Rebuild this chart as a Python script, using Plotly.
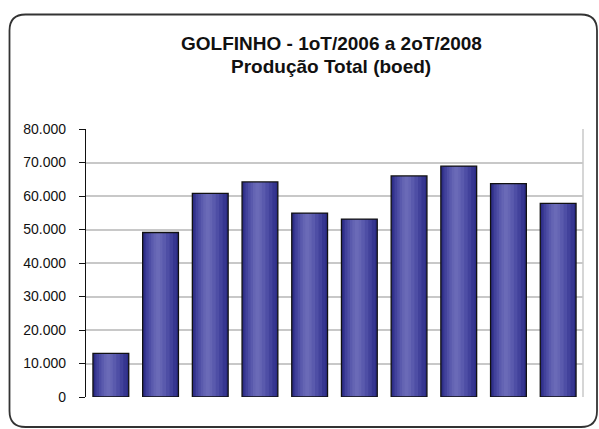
import plotly.graph_objects as go

# ---- data ----
quarters = ["1T/2006", "2T/2006", "3T/2006", "4T/2006", "1T/2007",
            "2T/2007", "3T/2007", "4T/2007", "1T/2008", "2T/2008"]
producao = [13000, 49100, 60800, 64200, 54900, 53100, 66000, 68900, 63700, 57800]
y_ticks = [0, 10000, 20000, 30000, 40000, 50000, 60000, 70000, 80000]
title_lines = ["GOLFINHO - 1oT/2006 a 2oT/2008", "Produção Total (boed)"]

W, H = 599, 429
ML, MR, MT, MB = 86, 16, 129, 32
PW, PH = W - ML - MR, H - MT - MB

fig = go.Figure()

# cylinder-like shading via overlaid bars (dark edges, lighter centre)
layers = [
    (0.72, "#2c2c85", 0.0),
    (0.64, "#363690", 0.0),
    (0.54, "#42429b", -0.02),
    (0.42, "#4e4ea5", -0.03),
    (0.30, "#5a5aad", -0.04),
    (0.18, "#6464b3", -0.05),
    (0.08, "#6a6ab7", -0.05),
]
for w, col, sh in layers:
    fig.add_trace(go.Bar(
        x=quarters, y=producao, width=w, offset=-w / 2 + sh,
        marker=dict(color=col, line=dict(width=0)),
        hoverinfo="skip", showlegend=False))
# outline on top
fig.add_trace(go.Bar(
    x=quarters, y=producao, width=0.72, offset=-0.36,
    marker=dict(color="rgba(0,0,0,0)", line=dict(color="#111111", width=1.3)),
    showlegend=False, name="Produção Total"))

def px2paper(px, py):
    return (px - ML) / PW, (H - MB - py) / PH

# rounded outer frame
x0, y0, x1, y1, r = 9.5, 14.5, 597, 427, 16
pts = [
    ("M", (x0 + r, y0)), ("L", (x1 - r, y0)), ("Q", (x1, y0), (x1, y0 + r)),
    ("L", (x1, y1 - r)), ("Q", (x1, y1), (x1 - r, y1)),
    ("L", (x0 + r, y1)), ("Q", (x0, y1), (x0, y1 - r)),
    ("L", (x0, y0 + r)), ("Q", (x0, y0), (x0 + r, y0)),
]
path = ""
for item in pts:
    cmd = item[0]
    coords = " ".join("%.5f,%.5f" % px2paper(*p) for p in item[1:])
    path += f"{cmd} {coords} "
path += "Z"

tfont = dict(size=19, family="Liberation Sans, Arial, sans-serif", color="#111111", weight="bold")
annotations = []
for txt, py in zip(title_lines, [43, 66]):
    ax, ay = px2paper(331, py)
    annotations.append(dict(text=txt, xref="paper", yref="paper", x=ax, y=ay,
                            xanchor="center", yanchor="middle", showarrow=False,
                            font=tfont))

fig.update_layout(
    width=W, height=H,
    margin=dict(l=ML, r=MR, t=MT, b=MB, pad=0),
    paper_bgcolor="white", plot_bgcolor="white",
    barmode="overlay",
    separators=",.",
    font=dict(family="Liberation Sans, Arial, sans-serif", color="#111111"),
    annotations=annotations,
    xaxis=dict(showticklabels=False, showgrid=False, zeroline=False, showline=False,
               ticks="", range=[-0.5, 9.5]),
    yaxis=dict(range=[0, 80000], tickvals=y_ticks, tickformat=",d",
               showgrid=True, gridcolor="#c8c8c8", gridwidth=1.5,
               zeroline=False, showline=True, linecolor="#111111", linewidth=1.2,
               ticks="outside", ticklen=6, tickcolor="#111111", tickwidth=1.2,
               ticklabelstandoff=10,
               tickfont=dict(size=14, color="#111111")),
    shapes=[
        dict(type="line", xref="paper", yref="paper", x0=1, x1=1, y0=0, y1=1,
             line=dict(color="#c8c8c8", width=1.5)),
        dict(type="path", xref="paper", yref="paper", path=path,
             line=dict(color="#333333", width=1.8), fillcolor="rgba(0,0,0,0)",
             layer="above"),
    ],
)

fig.write_html("out.html", config={"displayModeBar": False},
               post_script="document.body.style.margin='0';")
